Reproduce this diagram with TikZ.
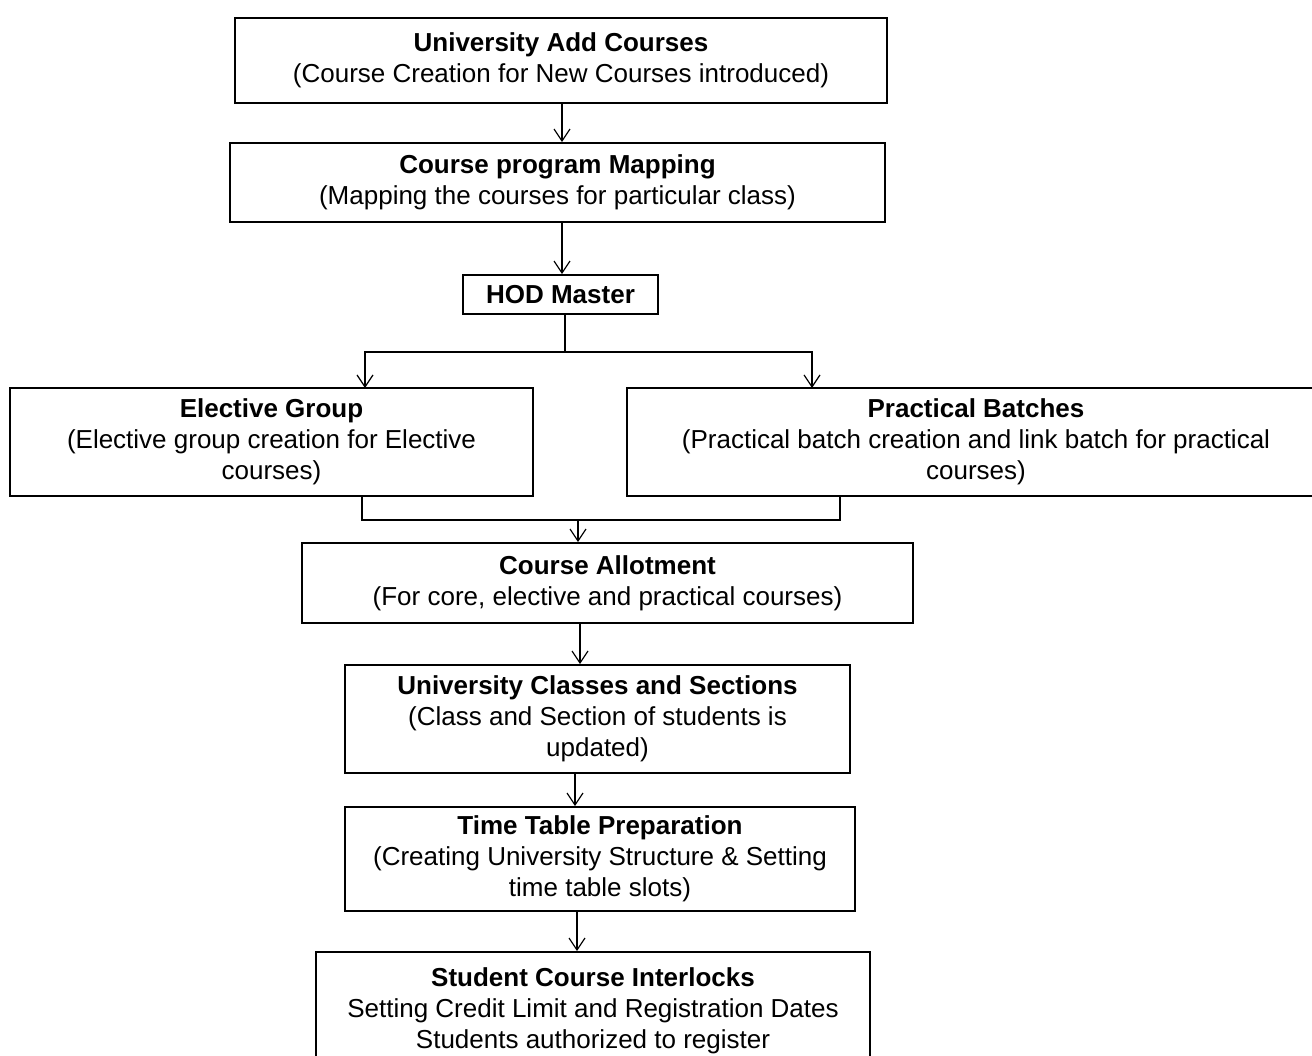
\documentclass[tikz,border=0pt]{standalone}
\usepackage{fontspec}
\setmainfont{Liberation Sans}
\usetikzlibrary{arrows.meta}

\begin{document}
\begin{tikzpicture}[x=0.5pt,y=-0.5pt,
	etape/.style={draw,line width=0.9pt,align=center,inner sep=0pt,font=\fontsize{13}{15.5}\selectfont},
	lien/.style={line width=0.6pt},
	fleche/.style={lien,-{Straight Barb[length=6pt,width=8pt]}}]
	% Cadre de l'image
	\clip (0,0) rectangle (1312,1055);
	\fill[white] (0,0) rectangle (1312,1055);
%
% Boites
	\node[etape,minimum width=326pt,minimum height=42.5pt] (add) at (561,60.5) {\textbf{University Add Courses}\\(Course Creation for New Courses introduced)};
	\node[etape,minimum width=327.5pt,minimum height=39.5pt] (map) at (557.5,182.5) {\textbf{Course program Mapping}\\(Mapping the courses for particular class)};
	\node[etape,minimum width=97.5pt,minimum height=19.5pt] (hod) at (560.5,294.5) {\textbf{HOD Master}};
	\node[etape,minimum width=261.5pt,minimum height=54pt] (elec) at (271.5,442) {\textbf{Elective Group}\\(Elective group creation for Elective\\courses)};
	\node[etape,minimum width=349pt,minimum height=54pt] (prac) at (976,442) {\textbf{Practical Batches}\\(Practical batch creation and link batch for practical\\courses)};
	\node[etape,minimum width=305.5pt,minimum height=40pt] (allot) at (607.5,583) {\textbf{Course Allotment}\\(For core, elective and practical courses)};
	\node[etape,minimum width=252.5pt,minimum height=54pt] (cls) at (597.5,719) {\textbf{University Classes and Sections}\\(Class and Section of students is\\updated)};
	\node[etape,minimum width=255pt,minimum height=52pt] (tt) at (600,859) {\textbf{Time Table Preparation}\\(Creating University Structure \& Setting\\time table slots)};
	\node[etape,minimum width=277pt,minimum height=59pt] (sci) at (593,1011) {\textbf{Student Course Interlocks}\\Setting Credit Limit and Registration Dates\\Students authorized to register};
%
% Points de jonction
	\coordinate (split) at (565,352);
	\coordinate (elecin) at (365,388);
	\coordinate (pracin) at (812,388);
	\coordinate (elecout) at (362,496);
	\coordinate (pracout) at (840,496);
	\coordinate (join) at (578,520);
%
% Liaisons
	\draw[fleche] (add.south -| 562,0) -- (map.north -| 562,0);
	\draw[fleche] (map.south -| 562,0) -- (hod.north -| 562,0);
	\draw[lien] (hod.south -| split) -- (split);
	\draw[fleche] (split) -| (elecin);
	\draw[fleche] (split) -| (pracin);
	\draw[lien] (elecout) |- (join) -| (pracout);
	\draw[fleche] (join) -- (join |- allot.north);
	\draw[fleche] (allot.south -| 580,0) -- (cls.north -| 580,0);
	\draw[fleche] (cls.south -| 575,0) -- (tt.north -| 575,0);
	\draw[fleche] (tt.south -| 577,0) -- (sci.north -| 577,0);

\end{tikzpicture}
\end{document}
